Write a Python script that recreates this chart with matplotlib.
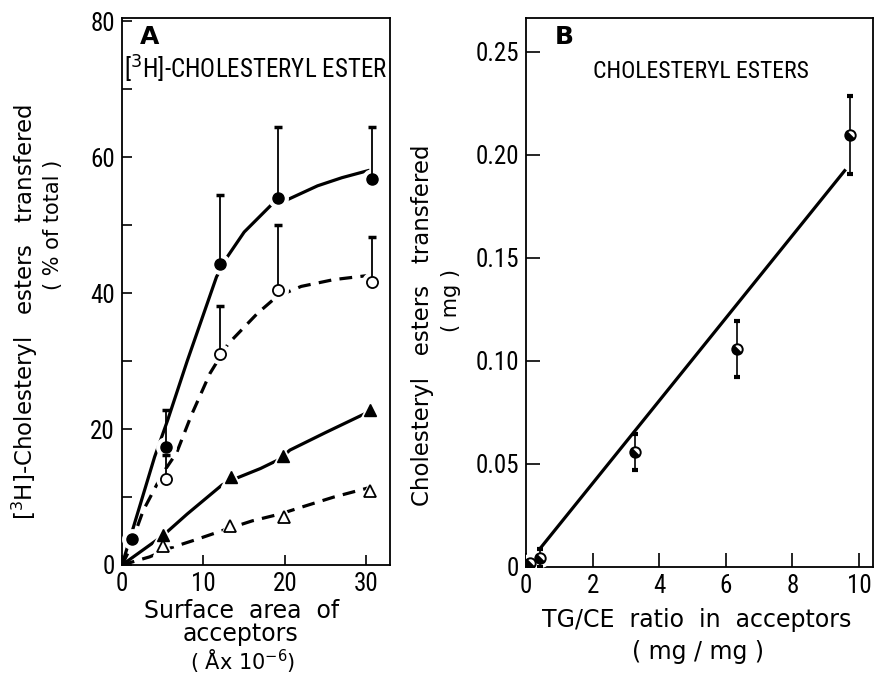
import matplotlib
matplotlib.use("Agg")
import matplotlib.pyplot as plt
from matplotlib import font_manager
from matplotlib.markers import MarkerStyle
from matplotlib.transforms import Affine2D

# pick a narrow font for ticks / titles if one is installed
names = set(f.name for f in font_manager.fontManager.ttflist)
narrow = "DejaVu Sans"
for n in ["Liberation Sans Narrow", "DejaVu Sans Condensed", "Roboto Condensed", "Open Sans Condensed"]:
    if n in names:
        narrow = n
        break
wide = "DejaVu Sans"

# ---- panel A data ----
fc_x = [1.2, 5.4, 12.0, 19.1, 30.7]
fc_y = [3.8, 17.3, 44.3, 54.0, 56.8]
fc_err = [0, 5.5, 10.2, 10.4, 7.6]

oc_x = [5.4, 12.0, 19.1, 30.7]
oc_y = [12.6, 31.0, 40.5, 41.6]
oc_err = [3.6, 7.1, 9.6, 6.6]

ft_x = [5.0, 13.4, 19.8, 30.4]
ft_y = [4.4, 12.9, 16.0, 22.8]

ot_x = [5.0, 13.3, 19.9, 30.4]
ot_y = [2.8, 5.7, 7.1, 10.9]

# hand drawn curves
fc_curve_x = [0, 4, 5.6, 8, 11.6, 12.9, 15, 18.5, 20.2, 24, 27, 30.4]
fc_curve_y = [0, 15.9, 21.3, 30, 42.4, 45.3, 49, 53.2, 53.7, 55.8, 57.0, 58.1]
oc_curve_x = [0, 0.7, 2.6, 5, 6.7, 8.5, 10.8, 13, 16.6, 19, 22, 26, 30.2]
oc_curve_y = [0, 1.7, 8, 13.5, 16.5, 22, 28.2, 32.5, 37, 39.5, 41, 42, 42.6]
ft_curve_x = [0, 5, 8, 12.3, 14.1, 17, 19.4, 20.6, 25, 30.4]
ft_curve_y = [0, 4.3, 7.5, 11.8, 12.8, 14.2, 15.6, 16.9, 19.5, 22.6]
ot_curve_x = [0, 3.4, 5.9, 9, 12.9, 16, 19.4, 22, 26, 30.4]
ot_curve_y = [0, 1.2, 2.5, 3.7, 5.3, 6.5, 7.5, 8.5, 10, 11.4]

a_yticks = [0, 20, 40, 60, 80]
a_ylabels = ["0", "20", "40", "60", "80"]
a_xticks = [0, 10, 20, 30]
a_xlabels = ["0", "10", "20", "30"]

# ---- panel B data ----
b_x = [0.12, 0.42, 3.27, 6.33, 9.73]
b_y = [0.002, 0.0044, 0.0558, 0.1058, 0.2097]
b_err = [0, 0.0045, 0.0088, 0.0135, 0.019]
reg_x = [0.1, 9.6]
reg_y = [0.0025, 0.193]

b_yticks = [0, 0.05, 0.10, 0.15, 0.20, 0.25]
b_ylabels = ["0", "0.05", "0.10", "0.15", "0.20", "0.25"]
b_xticks = [0, 2, 4, 6, 8, 10]
b_xlabels = ["0", "2", "4", "6", "8", "10"]

fig = plt.figure(figsize=(8.75, 6.75), dpi=100)
axA = fig.add_axes([122/875, 1-565/675, (390-122)/875, (565-18)/675])
axB = fig.add_axes([526/875, 1-567/675, (873-526)/875, (567-18)/675])

LW = 2.3
dash = (4, 2.6)

def halo(ax, x, y, marker, size):
    # white blob so the curve breaks around the symbol
    ax.plot(x, y, linestyle="none", marker=marker, markersize=size + 6,
            markerfacecolor="white", markeredgecolor="white", zorder=3)

# curves
axA.plot(fc_curve_x, fc_curve_y, color="black", lw=LW, zorder=2, solid_capstyle="butt")
axA.plot(oc_curve_x, oc_curve_y, color="black", lw=LW, ls=(0, dash), zorder=2)
axA.plot(ft_curve_x, ft_curve_y, color="black", lw=LW, zorder=2, solid_capstyle="butt")
axA.plot(ot_curve_x, ot_curve_y, color="black", lw=LW, ls=(0, dash), zorder=2)

halo(axA, fc_x, fc_y, "o", 8)
halo(axA, oc_x, oc_y, "o", 8)
halo(axA, ft_x, ft_y, "^", 9)
halo(axA, ot_x, ot_y, "^", 9)

# upper error bars only
axA.errorbar(fc_x, fc_y, yerr=[[0]*len(fc_err), fc_err], fmt="none", ecolor="black",
             elinewidth=1.3, capsize=3, capthick=2.5, zorder=4)
axA.errorbar(oc_x, oc_y, yerr=[[0]*len(oc_err), oc_err], fmt="none", ecolor="black",
             elinewidth=1.3, capsize=3, capthick=2.5, zorder=4)

axA.plot(fc_x, fc_y, ls="none", marker="o", markersize=8, markerfacecolor="black",
         markeredgecolor="black", zorder=5)
axA.plot(oc_x, oc_y, ls="none", marker="o", markersize=8, markerfacecolor="white",
         markeredgecolor="black", markeredgewidth=1.3, zorder=5)
axA.plot(ft_x, ft_y, ls="none", marker="^", markersize=9, markerfacecolor="black",
         markeredgecolor="black", zorder=5)
axA.plot(ot_x, ot_y, ls="none", marker="^", markersize=9, markerfacecolor="white",
         markeredgecolor="black", markeredgewidth=1.3, zorder=5)

axA.set_xlim(0, 32.9)
axA.set_ylim(0, 80.5)
axA.set_yticks(a_yticks)
axA.set_yticklabels(a_ylabels)
axA.set_yticks([10, 30, 50, 70], minor=True)
axA.set_xticks(a_xticks)
axA.set_xticklabels(a_xlabels)
axA.tick_params(which="both", direction="in", length=7, width=1.2, labelsize=18, pad=5)

# panel B
axB.plot(reg_x, reg_y, color="black", lw=LW, zorder=2, solid_capstyle="butt")
halo(axB, b_x, b_y, "o", 7)
axB.errorbar(b_x, b_y, yerr=b_err, fmt="none", ecolor="black", elinewidth=1.2,
             capsize=2, capthick=3, zorder=4)
half = MarkerStyle("o", fillstyle="bottom", transform=Affine2D().rotate_deg(-45))
axB.plot(b_x, b_y, ls="none", marker=half, markersize=7.5, markerfacecolor="black",
         markerfacecoloralt="white", markeredgecolor="black", markeredgewidth=1.4, zorder=5)

axB.set_xlim(0, 10.42)
axB.set_ylim(0, 0.2665)
axB.set_yticks(b_yticks)
axB.set_yticklabels(b_ylabels)
axB.set_xticks(b_xticks)
axB.set_xticklabels(b_xlabels)
axB.tick_params(which="both", direction="in", length=10, width=1.2, labelsize=18, pad=5)

for ax in (axA, axB):
    for s in ax.spines.values():
        s.set_linewidth(1.3)
    for lab in ax.get_xticklabels() + ax.get_yticklabels():
        lab.set_family(narrow)

# panel letters and titles
fig.text(150/875, 1-37/675, "A", fontsize=18, fontweight="bold", family=wide, ha="center", va="center")
fig.text(256/875, 1-69/675, "[$^3$H]-CHOLESTERYL ESTER", fontsize=18, family=narrow, ha="center", va="center")
fig.text(564/875, 1-37/675, "B", fontsize=18, fontweight="bold", family=wide, ha="center", va="center")
fig.text(701/875, 1-71/675, "CHOLESTERYL ESTERS", fontsize=17, family=narrow, ha="center", va="center")

# axis labels
fig.text(25/875, 1-312/675, "[$^3$H]-Cholesteryl   esters   transfered", fontsize=16.5, family=wide,
         rotation=90, ha="center", va="center")
fig.text(53/875, 1-225/675, "( % of total )", fontsize=15, family=wide,
         rotation=90, ha="center", va="center")
fig.text(242/875, 1-611/675, "Surface  area  of", fontsize=17, family=wide, ha="center", va="center")
fig.text(240/875, 1-634/675, "acceptors", fontsize=17, family=wide, ha="center", va="center")
fig.text(243/875, 1-661/675, "( Åx 10$^{-6}$)", fontsize=15, family=wide, ha="center", va="center")

fig.text(422/875, 1-325/675, "Cholesteryl   esters   transfered", fontsize=16.5, family=wide,
         rotation=90, ha="center", va="center")
fig.text(451/875, 1-300/675, "( mg )", fontsize=15, family=wide,
         rotation=90, ha="center", va="center")
fig.text(697/875, 1-620/675, "TG/CE  ratio  in  acceptors", fontsize=17, family=wide, ha="center", va="center")
fig.text(698/875, 1-652/675, "( mg / mg )", fontsize=17, family=wide, ha="center", va="center")

fig.savefig("out.png", dpi=100)
